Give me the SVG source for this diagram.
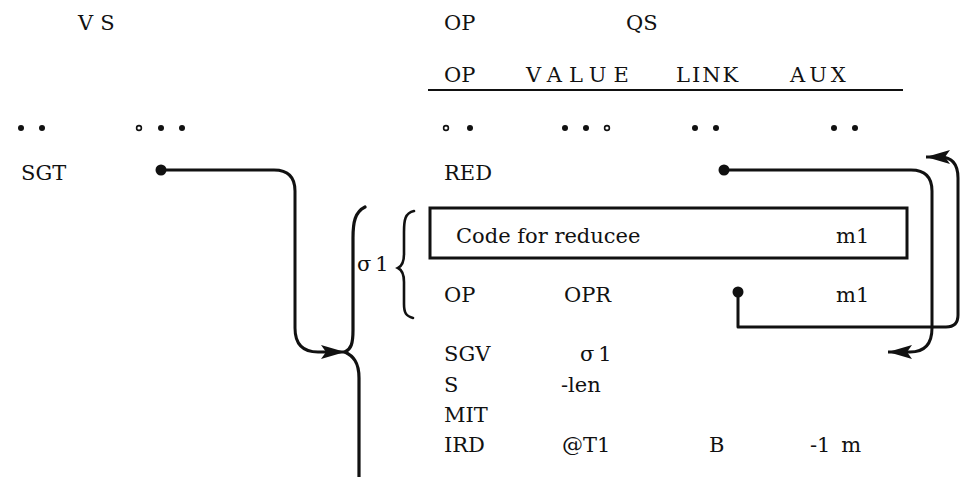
<svg xmlns="http://www.w3.org/2000/svg" width="964" height="477" viewBox="0 0 964 477">
<defs>
<marker id="ah" markerUnits="userSpaceOnUse" markerWidth="26" markerHeight="16" viewBox="0 0 26 16" refX="24" refY="8" orient="auto">
<path d="M0,1 L24,8 L0,15 L5,8 Z" fill="#111"/>
</marker>
</defs>
<rect width="964" height="477" fill="#fff"/>
<g id="vs-header">
<text x="78" y="30" font-family="DejaVu Serif" font-size="21" fill="#111" letter-spacing="7">VS</text>
</g>
<g id="qs-header">
<text x="444" y="30" font-family="DejaVu Serif" font-size="21" fill="#111">OP</text>
<text x="626" y="30" font-family="DejaVu Serif" font-size="21" fill="#111">QS</text>
<text x="444" y="82" font-family="DejaVu Serif" font-size="21" fill="#111">OP</text>
<text x="526" y="82" font-family="DejaVu Serif" font-size="21" fill="#111" letter-spacing="7">VALUE</text>
<text x="676" y="82" font-family="DejaVu Serif" font-size="21" fill="#111" letter-spacing="2">LINK</text>
<text x="790" y="82" font-family="DejaVu Serif" font-size="21" fill="#111" letter-spacing="4">AUX</text>
<line x1="428" y1="90" x2="903" y2="90" stroke="#111" stroke-width="2"/>
</g>
<g id="ellipsis-row" fill="#111">
<circle cx="21" cy="128" r="3"/><circle cx="42" cy="128" r="3"/>
<circle cx="139" cy="128" r="2.4" fill="#fff" stroke="#111" stroke-width="1.6"/><circle cx="161" cy="128" r="3"/><circle cx="182" cy="128" r="3"/>
<circle cx="446" cy="128" r="2.4" fill="#fff" stroke="#111" stroke-width="1.6"/><circle cx="470" cy="128" r="3"/>
<circle cx="565" cy="128" r="3"/><circle cx="586" cy="128" r="3"/><circle cx="607" cy="128" r="2.4" fill="#fff" stroke="#111" stroke-width="1.6"/>
<circle cx="695" cy="128" r="3"/><circle cx="716" cy="128" r="3"/>
<circle cx="834" cy="128" r="3"/><circle cx="855" cy="128" r="3"/>
</g>
<g id="sgt">
<text x="21" y="180" font-family="DejaVu Serif" font-size="21" fill="#111">SGT</text>
<circle cx="161" cy="170" r="5.5" fill="#111"/>
</g>
<g id="red">
<text x="444" y="180" font-family="DejaVu Serif" font-size="21" fill="#111">RED</text>
<circle cx="724" cy="170" r="5.5" fill="#111"/>
</g>
<g id="code-box">
<rect x="430" y="208" width="477" height="50" fill="none" stroke="#111" stroke-width="3"/>
<text x="456" y="243" font-family="DejaVu Serif" font-size="21" fill="#111">Code for reducee</text>
<text x="836" y="243" font-family="DejaVu Serif" font-size="21" fill="#111">m1</text>
</g>
<g id="sigma-brace">
<text x="357" y="271" font-family="DejaVu Serif" font-size="21" fill="#111" letter-spacing="4">σ1</text>
<path fill="none" stroke="#111" stroke-width="2.6" stroke-linecap="round" d="M414,211 C405,213 404,220 404,232 V254 C404,262 402,266 398,268 C402,270 404,274 404,282 V304 C404,313 406,316 413,318"/>
</g>
<g id="big-brace">
<path fill="none" stroke="#111" stroke-width="3.2" stroke-linecap="round" d="M365,207 C355,212 353,222 353,238 V330 C353,344 351,349 345,352 C353,356 359,362 359,378 V477"/>
</g>
<g id="op-row">
<text x="444" y="302" font-family="DejaVu Serif" font-size="21" fill="#111">OP</text>
<text x="564" y="302" font-family="DejaVu Serif" font-size="21" fill="#111">OPR</text>
<circle cx="738" cy="292" r="5.5" fill="#111"/>
<text x="836" y="302" font-family="DejaVu Serif" font-size="21" fill="#111">m1</text>
</g>
<g id="sgv-row">
<text x="444" y="361" font-family="DejaVu Serif" font-size="21" fill="#111">SGV</text>
<text x="580" y="361" font-family="DejaVu Serif" font-size="21" fill="#111" letter-spacing="4">σ1</text>
</g>
<g id="s-row">
<text x="444" y="392" font-family="DejaVu Serif" font-size="21" fill="#111">S</text>
<text x="561" y="392" font-family="DejaVu Serif" font-size="21" fill="#111">-len</text>
</g>
<g id="mit-row">
<text x="444" y="422" font-family="DejaVu Serif" font-size="21" fill="#111">MIT</text>
</g>
<g id="ird-row">
<text x="444" y="452" font-family="DejaVu Serif" font-size="21" fill="#111">IRD</text>
<text x="562" y="452" font-family="DejaVu Serif" font-size="21" fill="#111">@T1</text>
<text x="709" y="452" font-family="DejaVu Serif" font-size="21" fill="#111">B</text>
<text x="810" y="452" font-family="DejaVu Serif" font-size="21" fill="#111" word-spacing="4">-1 m</text>
</g>
<g id="connectors" fill="none" stroke="#111" stroke-width="3" stroke-linejoin="round">
<path marker-end="url(#ah)" d="M161,170 H274 Q295,170 295,191 V328 Q295,352 318,352 H345"/>
<path marker-end="url(#ah)" d="M724,170 H911 Q932,170 932,191 V328 Q932,352 910,352 H888"/>
<path marker-end="url(#ah)" d="M738,292 V327 H946 Q958,327 958,315 V178 Q958,157 940,157 H926"/>
</g>
</svg>
